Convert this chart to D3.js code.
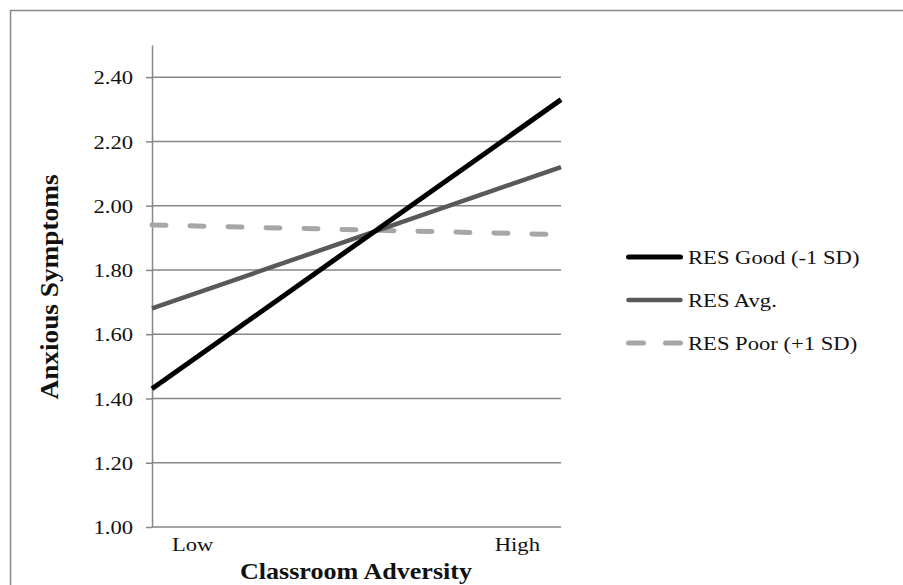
<!DOCTYPE html>
<html>
<head>
<meta charset="utf-8">
<script src="https://cdn.jsdelivr.net/npm/d3@7"></script>
<style>
  body { margin: 0; background: #fff; }
  svg { display: block; }
  text { font-family: "Liberation Serif", "Times New Roman", serif; fill: #111; }
</style>
</head>
<body>
<script>
// data
const categories = ['Low', 'High'];
const yTicks = [1.0, 1.2, 1.4, 1.6, 1.8, 2.0, 2.2, 2.4];
const resGood = [1.43, 2.33];
const resAvg = [1.68, 2.12];
const resPoor = [1.94, 1.91];
const seriesNames = ['RES Good (-1 SD)', 'RES Avg.', 'RES Poor (+1 SD)'];

const W = 903, H = 585;
const stretch = 1.16; // the source image is a bit wider than tall

const svg = d3.select('body').append('svg')
    .attr('width', W)
    .attr('height', H);

// outer frame (right and bottom edges are cut off in the source)
svg.append('rect')
    .attr('x', 10.5).attr('y', 10.5)
    .attr('width', W).attr('height', H)
    .attr('fill', 'none')
    .attr('stroke', '#8a8a8a')
    .attr('stroke-width', 1.5);

const x = d3.scalePoint()
    .domain(categories)
    .range([152, 561]);

const y = d3.scaleLinear()
    .domain([1, 2.5])
    .range([527, 45]);

// gridlines
svg.append('g')
    .selectAll('line')
    .data(yTicks.slice(1))
    .enter().append('line')
    .attr('x1', 152).attr('x2', 561)
    .attr('y1', d => y(d)).attr('y2', d => y(d))
    .attr('stroke', '#868686')
    .attr('stroke-width', 1.5);

// y axis
const yAxis = svg.append('g')
    .attr('transform', 'translate(152,0)')
    .call(d3.axisLeft(y).tickValues(yTicks).tickFormat(d3.format('.2f')).tickSize(6).tickSizeOuter(0));
yAxis.select('.domain').attr('stroke', '#868686').attr('stroke-width', 1.5);
yAxis.selectAll('.tick line').attr('stroke', '#868686').attr('stroke-width', 1.5);
yAxis.selectAll('.tick text')
    .attr('x', null)
    .attr('dy', '0.34em')
    .attr('transform', `translate(-19,0) scale(${stretch},1)`)
    .style('font-family', '"Liberation Serif", serif')
    .style('font-size', '19.5px')
    .attr('fill', '#111');

// x axis line
svg.append('line')
    .attr('x1', x.range()[0]).attr('x2', x.range()[1])
    .attr('y1', y(1)).attr('y2', y(1))
    .attr('stroke', '#868686')
    .attr('stroke-width', 1.5);

// x category labels
svg.append('g')
    .selectAll('text')
    .data(categories)
    .enter().append('text')
    .attr('text-anchor', (d, i) => i === 0 ? 'start' : 'end')
    .attr('transform', (d, i) => `translate(${x(d) + (i === 0 ? 20 : -21)},551) scale(${stretch},1)`)
    .style('font-size', '19.5px')
    .text(d => d);

// axis titles
svg.append('text')
    .attr('text-anchor', 'middle')
    .attr('transform', `translate(356,579) scale(${stretch},1)`)
    .style('font-size', '22.5px')
    .style('font-weight', 'bold')
    .text('Classroom Adversity');

svg.append('text')
    .attr('text-anchor', 'middle')
    .attr('transform', `translate(58,287) rotate(-90) scale(1.24,${stretch})`)
    .style('font-size', '22px')
    .style('font-weight', 'bold')
    .text('Anxious Symptoms');

// series
const series = [
    {name: seriesNames[0], values: resGood, color: '#000000', width: 5, dash: null},
    {name: seriesNames[1], values: resAvg, color: '#595959', width: 4.5, dash: null},
    {name: seriesNames[2], values: resPoor, color: '#a6a6a6', width: 5, dash: '14,24'}
];

const line = d3.line()
    .x((d, i) => x(categories[i]))
    .y(d => y(d));

// draw back to front so black sits on top
svg.append('g')
    .selectAll('path')
    .data(series.slice().reverse())
    .enter().append('path')
    .attr('d', d => line(d.values))
    .attr('fill', 'none')
    .attr('stroke', d => d.color)
    .attr('stroke-width', d => d.width)
    .attr('stroke-dasharray', d => d.dash)
    .attr('stroke-linecap', d => d.dash ? 'round' : 'butt');

// legend
const legend = svg.append('g')
    .selectAll('g')
    .data(series)
    .enter().append('g')
    .attr('transform', (d, i) => `translate(626,${257 + i * 43})`);

legend.append('line')
    .attr('x1', 2.5).attr('x2', 54.5)
    .attr('stroke', d => d.color)
    .attr('stroke-width', d => d.width)
    .attr('stroke-dasharray', d => d.dash ? '15,22' : null)
    .attr('stroke-linecap', 'round');

legend.append('text')
    .attr('dy', '0.34em')
    .attr('transform', `translate(62,0) scale(${stretch},1)`)
    .style('font-size', '19.5px')
    .text(d => d.name);
</script>
</body>
</html>
